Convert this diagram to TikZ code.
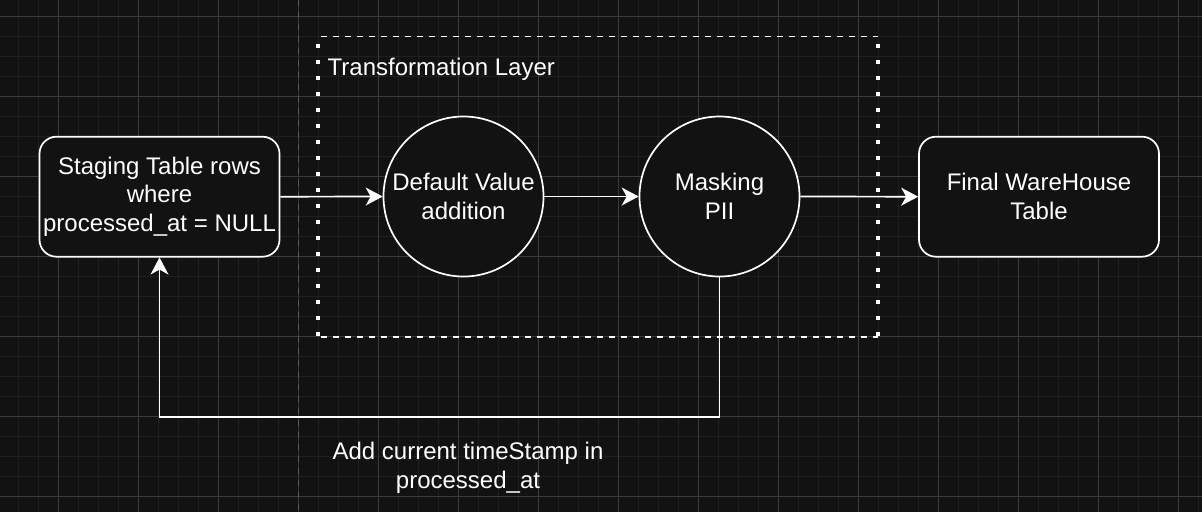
\documentclass[tikz,border=0pt]{standalone}
\usepackage{fontspec}
\setsansfont{Liberation Sans}
\usetikzlibrary{arrows.meta}
\definecolor{canvas}{HTML}{121212}
\definecolor{gminor}{HTML}{1F1F1F}
\definecolor{gmajor}{HTML}{3B3B3B}
\definecolor{gpage}{HTML}{5A5A5A}
\tikzset{
  >=Stealth,
  boxfont/.style={font=\fontsize{24}{28.6}\selectfont\sffamily},
  tablebox/.style={
    draw=white, fill=canvas, line width=1.7pt, text=white,
    rounded corners=17pt, align=center, inner sep=0pt,
    minimum width=240pt, minimum height=120pt, boxfont
  },
  opcircle/.style={
    circle, draw=white, fill=canvas, line width=1.7pt, text=white,
    align=center, inner sep=0pt, minimum size=160pt, boxfont
  },
  arr/.style={-{Stealth[length=17pt, width=18pt, inset=5pt]}, line width=1.7pt, draw=white},
  layerh/.style={draw=white, line width=1.8pt, dash pattern=on 6pt off 6pt, dash phase=9.3pt},
  layerv/.style={draw=white, line width=4pt, dash pattern=on 4pt off 12pt, dash phase=8.7pt},
  lab/.style={text=white, inner sep=0pt, align=center, boxfont},
  gridminor/.style={draw=gminor, line width=1.2pt},
  gridmajor/.style={draw=gmajor, line width=0.9pt},
  gridpage/.style={draw=gpage, line width=1.2pt, dash pattern=on 6pt off 6pt}
}
\begin{document}
\begin{tikzpicture}[x=1pt, y=-1pt]
  \useasboundingbox (0,0) rectangle (1202,512);
  \fill[canvas] (0,0) rectangle (1202,512);
  % grid
  \foreach \gx in {18.7,38.7,...,1198.7} \draw[gridminor] (\gx,0) -- (\gx,512);
  \foreach \gy in {16.7,36.7,...,496.7} \draw[gridminor] (0,\gy) -- (1202,\gy);
  \foreach \gx in {58.7,138.7,...,1178.7} \draw[gridmajor] (\gx,0) -- (\gx,512);
  \foreach \gy in {16.7,96.7,...,496.7} \draw[gridmajor] (0,\gy) -- (1202,\gy);
  \draw[gridpage] (298.7,0) -- (298.7,512);

  % transformation layer
  \node[minimum width=560pt, minimum height=300pt, inner sep=0pt] (layer) at (598,186.7) {};
  \draw[layerh] (layer.north west) -- (layer.north east);
  \draw[layerh] (layer.south west) -- (layer.south east);
  \draw[layerv] (layer.north west) -- (layer.south west);
  \draw[layerv] (layer.north east) -- (layer.south east);
  \node[lab, anchor=base west] (layertitle) at (327.5,75) {Transformation Layer};

  \node[tablebox] (stage) at (159.5,196.7) {Staging Table rows\\where\\processed\_at = NULL};
  \node[opcircle] (defval) at (463.5,196.5) {Default Value\\addition};
  \node[opcircle] (mask) at (719.5,196.5) {Masking\\PII};
  \node[tablebox] (final) at (1039,196.7) {Final WareHouse\\Table};

  \draw[arr] (stage.east) -- (defval.west);
  \draw[arr] (defval.east) -- (mask.west);
  \draw[arr] (mask.east) -- (final.west);

  % write back
  \coordinate (loopy) at (0,416.7);
  \draw[arr] (mask.south) -- (mask.south |- loopy) -| (stage.south);
  \node[lab] (stamplab) at (468,467.5) {Add current timeStamp in\\processed\_at};
\end{tikzpicture}
\end{document}
